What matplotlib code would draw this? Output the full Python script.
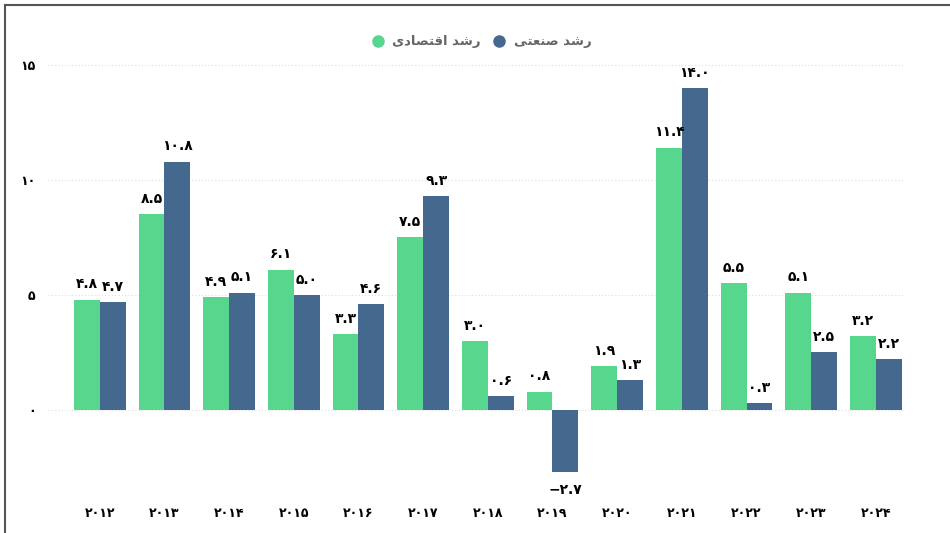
import matplotlib
matplotlib.use('Agg')
import matplotlib.pyplot as plt
from matplotlib.lines import Line2D
import numpy as np

years = [2012, 2013, 2014, 2015, 2016, 2017, 2018, 2019, 2020, 2021, 2022, 2023, 2024]
eghtesadi = [4.8, 8.5, 4.9, 6.1, 3.3, 7.5, 3.0, 0.8, 1.9, 11.4, 5.5, 5.1, 3.2]
sanati = [4.7, 10.8, 5.1, 5.0, 4.6, 9.3, 0.6, -2.7, 1.3, 14.0, 0.3, 2.5, 2.2]
y_ticks = [0, 5, 10, 15]

# نام سری‌ها به شکل نمایشی (حروف چسبیده و از چپ به راست) چون matplotlib شکل‌دهی عربی ندارد
nam_eghtesadi = '\uFBFC\uFEA9\uFE8E\uFEBC\uFE98\uFED7\uFE8D \uFEAA\uFEB7\uFEAD'  # رشد اقتصادی
nam_sanati = '\uFBFD\uFE98\uFECC\uFEE8\uFEBB \uFEAA\uFEB7\uFEAD'  # رشد صنعتی

sabz = '#57d68d'
abi = '#45688f'

fa_digits = str.maketrans('0123456789', '۰۱۲۳۴۵۶۷۸۹')
def fa(s):
    return str(s).translate(fa_digits)

plt.rcParams['font.family'] = ['DejaVu Sans']

fig = plt.figure(figsize=(9.5, 5.33), dpi=100)
ax = fig.add_axes([48/950, 0.0927, 857/950, 0.807])

x = np.arange(len(years))
w = 0.4
ax.bar(x - w/2, eghtesadi, w, color=sabz, zorder=3)
ax.bar(x + w/2, sanati, w, color=abi, zorder=3)

for xi, v in zip(x - w/2, eghtesadi):
    ax.annotate(fa(f'{v:.1f}'), (xi, v), xytext=(0, 6 if v >= 0 else -8),
                textcoords='offset points', ha='center',
                va='bottom' if v >= 0 else 'top', fontsize=10, fontweight='bold')
for xi, v in zip(x + w/2, sanati):
    ax.annotate(fa(f'{v:.1f}').replace('-', '\u2212'), (xi, v), xytext=(0, 6 if v >= 0 else -8),
                textcoords='offset points', ha='center',
                va='bottom' if v >= 0 else 'top', fontsize=10, fontweight='bold')

ax.set_xlim(-0.8, 12.45)
ax.set_ylim(-3.2, 15.5)
ax.set_yticks(y_ticks)
ax.set_yticklabels([fa(t) for t in y_ticks], fontsize=9, fontweight='bold')
ax.set_xticks(x)
ax.set_xticklabels([fa(y) for y in years], fontsize=9, fontweight='bold')
ax.tick_params(axis='x', length=0, pad=17)
ax.tick_params(axis='y', length=0, pad=9)
ax.grid(axis='y', linestyle=(0, (1, 2)), color='#dddddd', linewidth=0.8, zorder=0)
for s in ax.spines.values():
    s.set_visible(False)

handles = [Line2D([], [], marker='o', linestyle='', color=sabz, markersize=8),
           Line2D([], [], marker='o', linestyle='', color=abi, markersize=8)]
fig.legend(handles, [nam_eghtesadi, nam_sanati], loc='center', bbox_to_anchor=(478/950, 1 - 42/533),
           ncol=2, frameon=False, labelcolor='#666666', handletextpad=0.1,
           columnspacing=0.4, prop={'weight': 'bold', 'size': 9.5})

# قاب بالا و چپ
fig.add_artist(Line2D([5/950, 1], [1 - 5/533, 1 - 5/533], color='#555555', linewidth=1.5))
fig.add_artist(Line2D([5/950, 5/950], [0, 1 - 5/533], color='#555555', linewidth=1.5))

fig.savefig('out.png', dpi=100, facecolor='white')
